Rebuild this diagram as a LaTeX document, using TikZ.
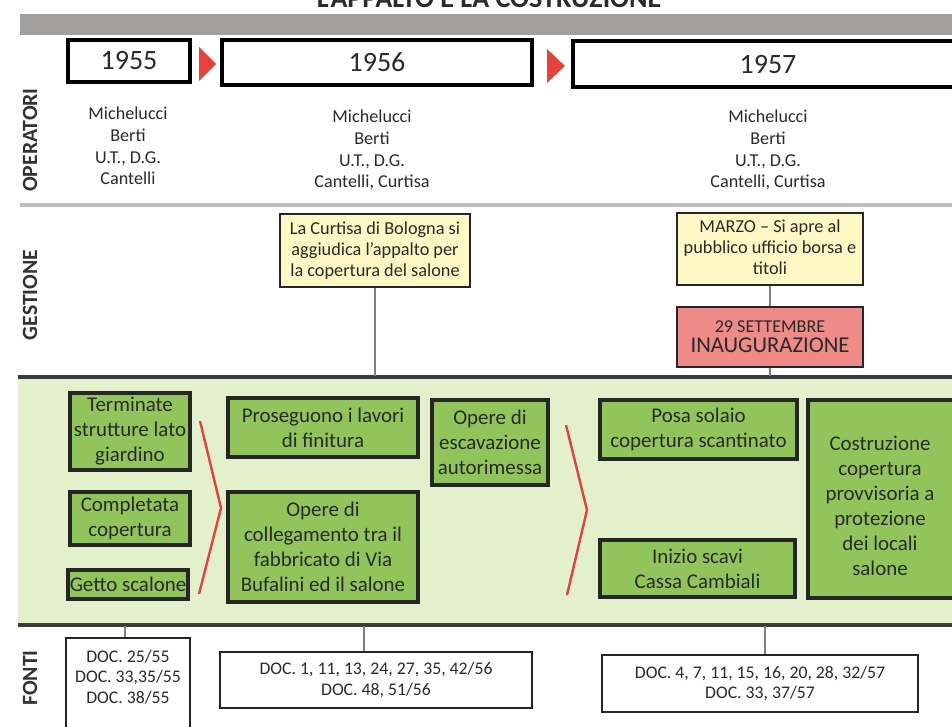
\documentclass[tikz,border=0pt]{standalone}
\usepackage{fontspec}
\setmainfont{Carlito}
\usetikzlibrary{fit}
\definecolor{bandgray}{HTML}{A09F9B}
\definecolor{sepgray}{HTML}{BDBDBD}
\definecolor{darkline}{HTML}{3A3A3A}
\definecolor{greenband}{HTML}{E2F1CC}
\definecolor{greenbox}{HTML}{92C45C}
\definecolor{yellowbox}{HTML}{FDF8C4}
\definecolor{pinkbox}{HTML}{EE8A88}
\definecolor{tri}{HTML}{E8403A}
\definecolor{conn}{HTML}{7F7F7F}
\definecolor{labelc}{HTML}{333333}
\definecolor{txt}{HTML}{2A2A2A}
\tikzset{
  yearbox/.style={draw=black, line width=2.6pt, fill=white, inner sep=0pt},
  gbox/.style={draw=black!85, line width=2.4pt, fill=greenbox, inner sep=0pt},
  gtext/.style={align=center, text=txt, inner sep=0pt, font=\fontsize{15.7}{18.8}\selectfont},
  ybox/.style={draw=black!85, line width=1.6pt, fill=yellowbox, inner sep=0pt},
  ytext/.style={align=center, text=txt, inner sep=0pt, font=\fontsize{13.7}{15.9}\selectfont},
  pbox/.style={draw=black!85, line width=1.6pt, fill=pinkbox, inner sep=0pt},
  fbox/.style={draw=black!85, line width=1.5pt, fill=white, inner sep=0pt},
  ftext/.style={align=center, text=txt, font=\fontsize{13.3}{15.5}\selectfont},
  optext/.style={align=center, text=txt, font=\fontsize{13.6}{16.3}\selectfont},
  sidelabel/.style={rotate=90, font=\fontsize{16.3}{18}\selectfont\bfseries, text=labelc},
  yeartext/.style={font=\fontsize{21}{24}\selectfont, text=txt},
  connector/.style={draw=conn, line width=1.4pt},
  chevron/.style={draw=tri, line width=1.8pt, line join=miter},
}
\begin{document}
\begin{tikzpicture}[x=0.75pt,y=-0.75pt]
\useasboundingbox (0,0) rectangle (952,727);
\fill[white] (0,0) rectangle (952,727);
% title (cut off at top)
\node[font=\fontsize{21}{24}\selectfont\bfseries, text=txt, anchor=base] (title) at (489,8) {L’APPALTO E LA COSTRUZIONE};
% top band
\fill[bandgray] (20,14) rectangle (960,35);
% year boxes
\node[yearbox, fit={(68,40) (190,82)}] (y55) {};
\node[yeartext] at (y55.center) (y55t) {1955};
\node[yearbox, fit={(222,40) (532,85)}] (y56) {};
\node[yeartext] at (y56.center) (y56t) {1956};
\node[yearbox, fit={(573,41) (965,87)}] (y57) {};
\node[yeartext] at (768,65) (y57t) {1957};
\fill[tri] (199,47) -- (216,64) -- (199,81) -- cycle;
\fill[tri] (547,49) -- (565,66) -- (547,83) -- cycle;
% side labels
\node[sidelabel] (lop) at (30,140) {OPERATORI};
\node[sidelabel] (lge) at (30,295) {GESTIONE};
\node[sidelabel] (lco) at (30,510) {COSTRUZIONE};
\node[sidelabel] (lfo) at (30,678) {FONTI};
% operatori
\node[optext] (op55) at (128,146) {Michelucci\\Berti\\U.T., D.G.\\Cantelli};
\node[optext] (op56) at (372,150) {Michelucci\\Berti\\U.T., D.G.\\Cantelli, Curtisa};
\node[optext] (op57) at (768,150) {Michelucci\\Berti\\U.T., D.G.\\Cantelli, Curtisa};
% separator
\draw[sepgray, line width=3pt] (20,205) -- (960,205);
% costruzione band
\fill[greenband] (18,377) rectangle (960,625);
\draw[darkline, line width=3.2pt] (18,377) -- (960,377);
\draw[darkline, line width=3.2pt] (18,625) -- (960,625);
\coordinate (ctop56) at (375,376);
\coordinate (ctop57) at (770,376);
\coordinate (cbot55) at (125,626);
\coordinate (cbot56) at (364,626);
\coordinate (cbot57) at (765,626);
% gestione
\node[ybox, fit={(280,214) (470,287)}] (g56) {};
\node[ytext] (g56t) at (g56.center) {La Curtisa di Bologna si\\aggiudica l’appalto per\\la copertura del salone};
\node[ybox, fit={(677,213) (863,285)}] (g57) {};
\node[ytext] (g57t) at ([yshift=1.5pt]g57.center) {MARZO – Si apre al\\pubblico ufficio borsa e\\titoli};
\node[pbox, fit={(677,307) (863,367)}] (inaug) {};
\node[align=center, text=txt, inner sep=0pt] (inaugt) at (inaug.center) {{\fontsize{13.6}{15}\selectfont 29 SETTEMBRE}\\[3pt]{\fontsize{17}{18}\selectfont INAUGURAZIONE}};
\draw[connector] (g56.south) -- (g56.south |- ctop56);
\draw[connector] (g57.south) -- (inaug.north);
\draw[connector] (inaug.south) -- (inaug.south |- ctop57);
% costruzione boxes
\node[gbox, fit={(70,393) (190,470)}] (c1) {};
\node[gtext] (c1t) at (c1.center) {Terminate\\strutture lato\\giardino};
\node[gbox, fit={(70,492) (190,545)}] (c2) {};
\node[gtext] (c2t) at (c2.center) {Completata\\copertura};
\node[gbox, fit={(68,570) (188,599)}] (c3) {};
\node[gtext] (c3t) at (c3.center) {Getto scalone};
\node[gbox, fit={(228,398) (418,457)}] (c4) {};
\node[gtext] (c4t) at (c4.center) {Proseguono i lavori\\di finitura};
\node[gbox, fit={(228,492) (418,602)}] (c5) {};
\node[gtext] (c5t) at (c5.center) {Opere di\\collegamento tra il\\fabbricato di Via\\Bufalini ed il salone};
\node[gbox, fit={(432,400) (548,485)}] (c6) {};
\node[gtext] (c6t) at (c6.center) {Opere di\\escavazione\\autorimessa};
\node[gbox, fit={(600,400) (797,459)}] (c7) {};
\node[gtext] (c7t) at (c7.center) {Posa solaio\\copertura scantinato};
\node[gbox, fit={(600,540) (795,597)}] (c8) {};
\node[gtext] (c8t) at (c8.center) {Inizio scavi\\Cassa Cambiali};
\node[gbox, fit={(808,400) (965,598)}] (c9) {};
\node[gtext] (c9t) at (880,506) {Costruzione\\copertura\\provvisoria a\\protezione\\dei locali\\salone};
% chevrons
\draw[chevron] (200,421) -- (221,508) -- (199,594);
\draw[chevron] (566,425) -- (587,510) -- (567,595);
% fonti
\node[fbox, fit={(66,638) (190,740)}] (f55) {};
\node[ftext] (f55t) at (128,677) {DOC. 25/55\\DOC. 33,35/55\\DOC. 38/55};
\node[fbox, fit={(220,652) (532,708)}] (f56) {};
\node[ftext] (f56t) at (f56.center) {DOC. 1, 11, 13, 24, 27, 35, 42/56\\DOC. 48, 51/56};
\node[fbox, fit={(602,655) (918,712)}] (f57) {};
\node[ftext] (f57t) at (f57.center) {DOC. 4, 7, 11, 15, 16, 20, 28, 32/57\\DOC. 33, 37/57};
\draw[connector] (cbot55) -- (cbot55 |- f55.north);
\draw[connector] (cbot56) -- (cbot56 |- f56.north);
\draw[connector] (cbot57) -- (cbot57 |- f57.north);
\end{tikzpicture}
\end{document}
